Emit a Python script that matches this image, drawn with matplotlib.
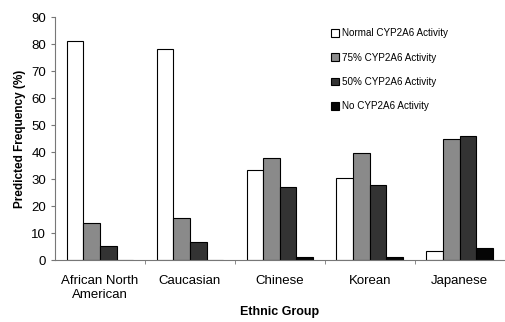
import numpy as np
import matplotlib
matplotlib.use("Agg")
import matplotlib.pyplot as plt

plt.rcParams['font.family'] = ['Liberation Sans', 'DejaVu Sans']

groups = ["African North\nAmerican", "Caucasian", "Chinese", "Korean", "Japanese"]
series_names = ["Normal CYP2A6 Activity", "75% CYP2A6 Activity",
                "50% CYP2A6 Activity", "No CYP2A6 Activity"]
normal = [81, 78, 33.2, 30.4, 3.3]
pct75 = [13.8, 15.6, 37.8, 39.8, 45]
pct50 = [5.3, 6.6, 27, 28, 46]
none_ = [0, 0, 1.2, 1.1, 4.6]
colors = ["white", "#8a8a8a", "#333333", "#050505"]

fig = plt.figure(figsize=(5.05, 3.22), dpi=100)
ax = fig.add_axes([0.109, 0.192, 0.89, 0.755])

x = np.arange(len(groups))
w = 0.185
for i, (vals, name, c) in enumerate(zip([normal, pct75, pct50, none_], series_names, colors)):
    ax.bar(x + (i - 1.5) * w, vals, w, color=c, edgecolor="black", linewidth=0.8, label=name)

ax.set_xlim(-0.5, len(groups) - 0.5)
ax.set_ylim(0, 90)
ax.set_yticks(range(0, 91, 10))
ax.set_xticks(x)
ax.set_xticklabels(groups, fontsize=9.5)
ax.tick_params(axis="x", length=0, pad=11)
ax.set_xticks(np.arange(0.5, len(groups) - 0.5, 1), minor=True)
ax.tick_params(axis="x", which="minor", length=3, color="#777777")
ax.tick_params(axis="y", labelsize=9.5, length=3, color="#777777")
for s in ["top", "right"]:
    ax.spines[s].set_visible(False)
ax.spines["left"].set_color("#777777")
ax.spines["bottom"].set_color("#777777")

ax.set_xlabel("Ethnic Group", fontsize=9, fontweight="bold")
ax.xaxis.set_label_coords(0.5, -0.19)
ax.set_ylabel("Predicted Frequency (%)", fontsize=8.5, fontweight="bold")

ax.legend(loc="upper left", bbox_to_anchor=(0.595, 0.99), frameon=False, fontsize=7.1,
          handlelength=0.8, handleheight=0.8, handletextpad=0.3, labelspacing=1.45)

fig.savefig("out.png", dpi=100)
